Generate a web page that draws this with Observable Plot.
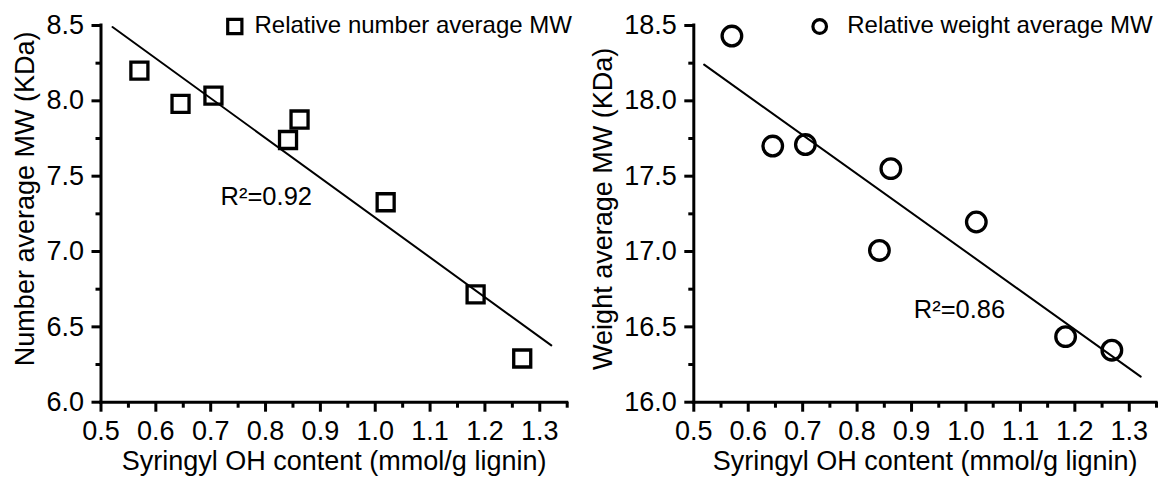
<!DOCTYPE html>
<html>
<head>
<meta charset="utf-8">
<script src="https://cdn.jsdelivr.net/npm/d3@7"></script>
<script src="https://cdn.jsdelivr.net/npm/@observablehq/plot@0.6"></script>
<style>
  html, body { margin: 0; padding: 0; background: #fff; }
  #wrap { display: flex; width: 1162px; height: 477px; }
  #wrap svg { flex: none; }
</style>
</head>
<body>
<div id="wrap"></div>
<script>
// ---- data ----
const syringylOH = [0.570, 0.645, 0.705, 0.841, 0.862, 1.019, 1.183, 1.268];
const numberAvgMW = [8.20, 7.98, 8.035, 7.74, 7.876, 7.327, 6.715, 6.29];
const weightAvgMW = [18.43, 17.70, 17.71, 17.007, 17.55, 17.196, 16.435, 16.345];

// fitted regression lines (end points as drawn)
const fitX = [0.521, 1.321];
const fitNumber = [8.49, 6.377];
const fitXW = [0.519, 1.321];
const fitWeight = [18.24, 16.17];

// R² annotations
const r2Number = [{x: 0.718, y: 7.365, label: "R²=0.92"}];
const r2Weight = [{x: 0.904, y: 16.612, label: "R²=0.86"}];

// ticks
const xMajorTicks = [0.5, 0.6, 0.7, 0.8, 0.9, 1.0, 1.1, 1.2, 1.3];
const xMinorTicks = [0.55, 0.65, 0.75, 0.85, 0.95, 1.05, 1.15, 1.25, 1.35];
const yMajorNumber = [6.0, 6.5, 7.0, 7.5, 8.0, 8.5];
const yMinorNumber = [6.25, 6.75, 7.25, 7.75, 8.25];
const yMajorWeight = [16.0, 16.5, 17.0, 17.5, 18.0, 18.5];
const yMinorWeight = [16.25, 16.75, 17.25, 17.75, 18.25];

// labels
const xTitle = "Syringyl OH content (mmol/g lignin)";
const yTitleNumber = "Number average MW (KDa)";
const yTitleWeight = "Weight average MW (KDa)";
const legendNumber = "Relative number average MW";
const legendWeight = "Relative weight average MW";

const FONT = "'Liberation Sans', Arial, Helvetica, sans-serif";

function panel(o) {
  const pts = syringylOH.map((x, i) => ({x, y: o.values[i]}));
  const fit = o.fitX.map((x, i) => ({x, y: o.fitY[i]}));
  return Plot.plot({
    width: 581,
    height: 477,
    marginLeft: o.marginLeft,
    marginRight: o.marginRight,
    marginTop: 25,
    marginBottom: 75.3,
    style: {fontFamily: FONT, fontSize: "27px", color: "black", background: "white", overflow: "visible"},
    x: {domain: [0.5, 1.35], label: null},
    y: {domain: o.yDomain, label: null},
    marks: [
      Plot.ruleX([0.5], {stroke: "black", strokeWidth: 3, strokeLinecap: "square"}),
      Plot.ruleY([o.yDomain[0]], {stroke: "black", strokeWidth: 3, strokeLinecap: "square"}),
      Plot.axisX({ticks: xMajorTicks, tickSize: 10, tickPadding: 9, tickFormat: d3.format(".1f"), strokeWidth: 3, label: null, fill: "black"}),
      Plot.axisX({ticks: xMinorTicks, tickSize: 6, tickFormat: () => "", strokeWidth: 3, label: null}),
      Plot.axisY({ticks: o.yMajor, tickSize: 9, tickPadding: 8, tickFormat: d3.format(".1f"), strokeWidth: 3, label: null, fill: "black"}),
      Plot.axisY({ticks: o.yMinor, tickSize: 5, tickFormat: () => "", strokeWidth: 3, label: null}),
      Plot.text([xTitle], {frameAnchor: "bottom", textAnchor: "middle", lineAnchor: "bottom", dy: 67.3, fontSize: 27, fill: "black"}),
      Plot.text([o.yTitle], {frameAnchor: "left", rotate: -90, textAnchor: "middle", lineAnchor: "middle", dx: o.yTitleDx, dy: o.yTitleDy, fontSize: 27, fill: "black"}),
      Plot.line(fit, {x: "x", y: "y", stroke: "black", strokeWidth: 2}),
      Plot.dot(pts, {x: "x", y: "y", symbol: o.symbol, r: o.r, stroke: "black", strokeWidth: 3.3, fill: "none"}),
      Plot.text(o.r2, {x: "x", y: "y", text: "label", textAnchor: "start", lineAnchor: "middle", fontSize: 25.5, fill: "black"}),
      Plot.dot([o.legend], {frameAnchor: "top-left", dx: o.legDotDx, dy: 1, symbol: o.symbol, r: o.legR, stroke: "black", strokeWidth: 3.2, fill: "none"}),
      Plot.text([o.legend], {frameAnchor: "top-left", dx: o.legTextDx, dy: 0, textAnchor: "start", lineAnchor: "middle", fontSize: 24, fill: "black"})
    ]
  });
}

const left = panel({
  values: numberAvgMW, fitX: fitX, fitY: fitNumber, r2: r2Number,
  yDomain: [6.0, 8.5], yMajor: yMajorNumber, yMinor: yMinorNumber,
  yTitle: yTitleNumber, yTitleDx: -75.5, yTitleDy: -15,
  marginLeft: 100.5, marginRight: 14.3,
  symbol: "square", r: 9.6, legR: 8, legend: legendNumber,
  legDotDx: 133.8, legTextDx: 153.5
});
const right = panel({
  values: weightAvgMW, fitX: fitXW, fitY: fitWeight, r2: r2Weight,
  yDomain: [16.0, 18.5], yMajor: yMajorWeight, yMinor: yMinorWeight,
  yTitle: yTitleWeight, yTitleDx: -90.3, yTitleDy: -5,
  marginLeft: 112.3, marginRight: 6,
  symbol: "circle", r: 9.8, legR: 6.8, legend: legendWeight,
  legDotDx: 125.9, legTextDx: 153.4
});
document.getElementById("wrap").append(left, right);
</script>
</body>
</html>
